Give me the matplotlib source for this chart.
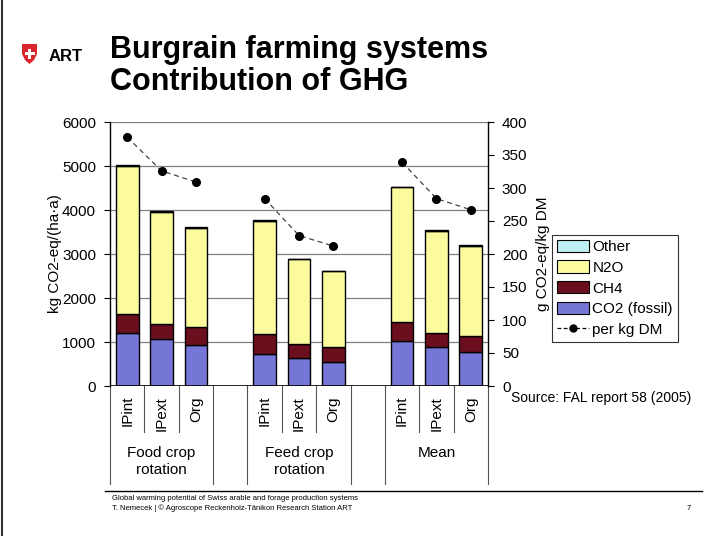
import matplotlib
matplotlib.use("Agg")
import matplotlib.pyplot as plt
import numpy as np
from matplotlib.patches import Polygon, Rectangle
from matplotlib.lines import Line2D

plt.rcParams['font.family'] = ['Liberation Sans', 'DejaVu Sans']

# ---------------- data ----------------
groups = ["Food crop\nrotation", "Feed crop\nrotation", "Mean"]
systems = ["IPint", "IPext", "Org"]
co2_fossil = [1210, 1060, 930, 730, 630, 550, 1020, 880, 780]
ch4 = [430, 350, 405, 445, 315, 335, 440, 330, 365]
n2o = [3360, 2555, 2260, 2580, 1935, 1725, 3055, 2320, 2040]
other = [20, 15, 15, 15, 10, 10, 15, 12, 12]
per_kg_dm = [377, 326, 309, 284, 228, 212, 339, 284, 267]
left_ticks = [0, 1000, 2000, 3000, 4000, 5000, 6000]
right_ticks = [0, 50, 100, 150, 200, 250, 300, 350, 400]

W, H = 709, 536
fig = plt.figure(figsize=(W / 100, H / 100), dpi=100)
fig.patch.set_facecolor("white")

ax_l, ax_r, ax_b, ax_t = 110, 488, 386, 122
ax = fig.add_axes([ax_l / W, 1 - ax_b / H, (ax_r - ax_l) / W, (ax_b - ax_t) / H])

# slot positions: 3 per group with an empty slot between groups
pos = []
for g in range(len(groups)):
    for s in range(len(systems)):
        pos.append(g * 4 + s)
pos = np.array(pos, dtype=float)

c_co2 = "#7676d6"
c_ch4 = "#6b0f1e"
c_n2o = "#fbfb9e"
c_oth = "#bff0f4"
bw = 0.66
b0 = np.zeros(len(pos))
ax.bar(pos, co2_fossil, bw, bottom=b0, color=c_co2, edgecolor="black", linewidth=1.0, zorder=3)
b1 = b0 + np.array(co2_fossil)
ax.bar(pos, ch4, bw, bottom=b1, color=c_ch4, edgecolor="black", linewidth=1.0, zorder=3)
b2 = b1 + np.array(ch4)
ax.bar(pos, n2o, bw, bottom=b2, color=c_n2o, edgecolor="black", linewidth=1.0, zorder=3)
b3 = b2 + np.array(n2o)
ax.bar(pos, other, bw, bottom=b3, color=c_oth, edgecolor="black", linewidth=1.0, zorder=3)

ax.set_xlim(-0.5, 10.5)
ax.set_ylim(0, 6000)
ax.set_yticks(left_ticks)
ax.set_yticklabels([str(t) for t in left_ticks], fontsize=11)
ax.grid(axis="y", color="#808080", linewidth=0.9, zorder=0)
ax.set_xticks([])
for sp in ["top", "right", "bottom"]:
    ax.spines[sp].set_visible(False)
ax.spines["left"].set_linewidth(1.0)
ax.tick_params(axis="y", direction="out", length=4, pad=6)
ax.axhline(0, color="black", linewidth=1.2, zorder=4)
ax.set_ylabel("kg CO2-eq/(ha·a)", fontsize=11, labelpad=0)

ax2 = ax.twinx()
ax2.set_ylim(0, 400)
ax2.set_yticks(right_ticks)
ax2.set_yticklabels([str(t) for t in right_ticks], fontsize=11)
for sp in ["top", "left", "bottom"]:
    ax2.spines[sp].set_visible(False)
ax2.spines["right"].set_linewidth(1.0)
ax2.tick_params(axis="y", direction="out", length=4, pad=6)
ax2.set_ylabel("g CO2-eq/kg DM", fontsize=11, labelpad=6)

# dashed line per group
for g in range(len(groups)):
    sl = slice(g * 3, g * 3 + 3)
    ax2.plot(pos[sl], per_kg_dm[sl], linestyle=(0, (4, 3)), color="#444444",
             linewidth=0.9, marker="o", markersize=5.5, markerfacecolor="black",
             markeredgecolor="black", zorder=5)

# category axis labels
def yfrac(py):
    return (ax_b - py) / (ax_b - ax_t)

tr = ax.get_xaxis_transform()
for x in [0.5, 1.5, 4.5, 5.5, 8.5, 9.5]:
    ax.add_line(Line2D([x, x], [0, yfrac(432)], transform=tr, color="#555555",
                       linewidth=0.8, clip_on=False))
for x in [-0.5, 2.5, 3.5, 6.5, 7.5, 10.5]:
    ax.add_line(Line2D([x, x], [0, yfrac(484)], transform=tr, color="#555555",
                       linewidth=0.8, clip_on=False))
for i, p in enumerate(pos):
    ax.text(p, yfrac(396), systems[i % 3], rotation=90, ha="center", va="top",
            fontsize=11, transform=tr)
for g, name in enumerate(groups):
    ax.text(g * 4 + 1, yfrac(446), name, ha="center", va="top", fontsize=11,
            linespacing=1.3, transform=tr)

# legend
handles = [
    Rectangle((0, 0), 1, 1, facecolor=c_oth, edgecolor="black", linewidth=0.8),
    Rectangle((0, 0), 1, 1, facecolor=c_n2o, edgecolor="black", linewidth=0.8),
    Rectangle((0, 0), 1, 1, facecolor=c_ch4, edgecolor="black", linewidth=0.8),
    Rectangle((0, 0), 1, 1, facecolor=c_co2, edgecolor="black", linewidth=0.8),
    Line2D([0], [0], linestyle=(0, (3, 2)), color="black", linewidth=0.9,
           marker="o", markersize=5, markerfacecolor="black"),
]
labels = ["Other", "N2O", "CH4", "CO2 (fossil)", "per kg DM"]
leg = fig.legend(handles, labels, loc="upper left",
                 bbox_to_anchor=(552 / W, 1 - 235 / H), fontsize=11,
                 frameon=True, fancybox=False, edgecolor="black",
                 handlelength=2.1, handleheight=0.85, handletextpad=0.25,
                 labelspacing=0.42, borderpad=0.3, borderaxespad=0)
leg.get_frame().set_linewidth(0.8)

fig.text(511 / W, 1 - 398 / H, "Source: FAL report 58 (2005)", fontsize=10,
         ha="left", va="center")

# title & logo
fig.text(110 / W, 1 - 58 / H, "Burgrain farming systems", fontsize=22,
         fontweight="bold", ha="left", va="baseline")
fig.text(110 / W, 1 - 90 / H, "Contribution of GHG", fontsize=22,
         fontweight="bold", ha="left", va="baseline")
shield_pts = [[22, 44], [37, 44], [37, 54], [34, 60], [29.5, 64], [25, 60], [22, 54]]
fig.patches.append(Polygon([[x, H - y] for x, y in shield_pts], closed=True,
                           transform=None, facecolor="#d9262b", edgecolor="none"))
fig.patches.append(Rectangle((27.8, H - 58.5), 3.4, 10, transform=None,
                             facecolor="white", edgecolor="none"))
fig.patches.append(Rectangle((24.5, H - 55.2), 10, 3.4, transform=None,
                             facecolor="white", edgecolor="none"))
fig.text(49 / W, 1 - 61 / H, "ART", fontsize=12, fontweight="bold",
         ha="left", va="baseline")

# footer
fig.add_artist(Line2D([105 / W, 702 / W], [1 - 491 / H, 1 - 491 / H],
                      color="black", linewidth=1.0))
fig.text(112 / W, 1 - 499 / H,
         "Global warming potential of Swiss arable and forage production systems",
         fontsize=5.5, ha="left", va="center")
fig.text(112 / W, 1 - 508 / H,
         "T. Nemecek | © Agroscope Reckenholz-Tänikon Research Station ART",
         fontsize=5.5, ha="left", va="center")
fig.text(687 / W, 1 - 508 / H, "7", fontsize=5.5, ha="left", va="center")

# slide border on the left
fig.add_artist(Line2D([2 / W, 2 / W], [0, 1], color="#333333", linewidth=1.5))

fig.savefig("out.png", dpi=100)
